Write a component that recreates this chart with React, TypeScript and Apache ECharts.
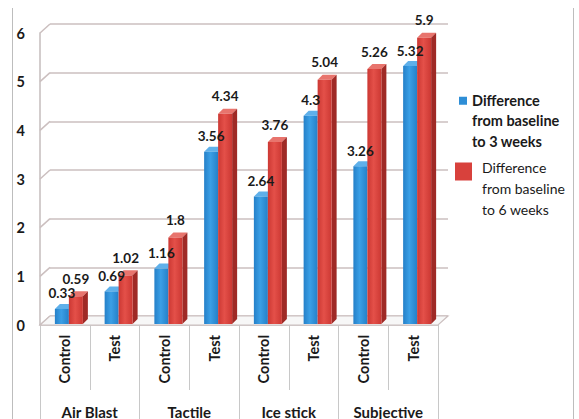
import React, { useEffect, useRef } from "react";
import * as echarts from "echarts";

const categories = ["Control", "Test", "Control", "Test", "Control", "Test", "Control", "Test"];
const groups = ["Air Blast", "Tactile", "Ice stick", "Subjective"];
const weeks3 = [0.33, 0.69, 1.16, 3.56, 2.64, 4.3, 3.26, 5.32];
const weeks6 = [0.59, 1.02, 1.8, 4.34, 3.76, 5.04, 5.26, 5.9];
const yTicks = [0, 1, 2, 3, 4, 5, 6];
const name3 = "Difference\nfrom baseline\nto 3 weeks";
const name6 = "Difference\nfrom baseline\nto 6 weeks";

const FONT = 'Lato, "Open Sans", sans-serif';
const TXT = "#1a1a1a";
const DX = 10;
const DY = 9;

function makeBar(offL: number, offR: number, c: any, showSide: boolean) {
  return (params: any, api: any) => {
    const idx = api.value(0);
    const v = api.value(1);
    const base = api.coord([idx, 0]);
    const top = api.coord([idx, v]);
    const cx = base[0];
    const x0 = cx + offL;
    const x1 = cx + offR;
    const yb = base[1] - 1;
    const yt = top[1];
    const dx = 5;
    const dy = 5;
    const children: any[] = [
      {
        type: "polygon",
        shape: { points: [[x0, yt], [x0 + dx, yt - dy], [x1 + dx, yt - dy], [x1, yt]] },
        style: { fill: c.top },
      },
      {
        type: "rect",
        shape: { x: x0, y: yt, width: x1 - x0, height: yb - yt },
        style: {
          fill: new echarts.graphic.LinearGradient(0, 0, 1, 0, [
            { offset: 0, color: c.edge },
            { offset: 0.45, color: c.mid },
            { offset: 1, color: c.edge },
          ]),
        },
      },
    ];
    if (showSide) {
      children.splice(1, 0, {
        type: "polygon",
        shape: { points: [[x1, yt], [x1 + dx, yt - dy], [x1 + dx, yb - dy], [x1, yb]] },
        style: { fill: c.side },
      });
    }
    return { type: "group", children };
  };
}

function makeLabel(offL: number, offR: number, gap: number) {
  return (params: any, api: any) => {
    const idx = api.value(0);
    const v = api.value(1);
    const base = api.coord([idx, 0]);
    const top = api.coord([idx, v]);
    const cx = base[0];
    return {
      type: "text",
      style: {
        text: String(v),
        x: cx + (offL + offR) / 2,
        y: top[1] - gap,
        align: "center",
        verticalAlign: "bottom",
        fill: TXT,
        font: `bold 13.5px ${FONT}`,
      },
    };
  };
}

export default function App() {
  const ref = useRef<HTMLDivElement>(null);
  useEffect(() => {
    const chart = echarts.init(ref.current!, null, { renderer: "svg" });
    const blue = { top: "#5fb0ea", edge: "#2580c8", mid: "#3a9fe6", side: "#1b62a0" };
    const red = { top: "#e8746d", edge: "#cc3833", mid: "#e45049", side: "#9f2a26" };
    chart.setOption({
      animation: false,
      backgroundColor: "#ffffff",
      textStyle: { fontFamily: FONT },
      graphic: [
        { type: "line", shape: { x1: 12.5, y1: 8, x2: 12.5, y2: 419 }, style: { stroke: "#bdbdbd", lineWidth: 1 } },
        { type: "line", shape: { x1: 573.5, y1: 8, x2: 573.5, y2: 419 }, style: { stroke: "#bdbdbd", lineWidth: 1 } },
      ],
      legend: [
        {
          left: 459,
          top: 90,
          padding: 0,
          orient: "vertical",
          itemWidth: 8,
          itemHeight: 60,
          selectedMode: false,
          textStyle: { fontFamily: FONT, fontWeight: "bold", fontSize: 14.5, lineHeight: 20.5, color: TXT },
          data: [
            {
              name: name3,
              icon: "path://M0,0h0.1v0.1h-0.1z M0,6h8v8h-8z M0,59.9h0.1v0.1h-0.1z",
            },
          ],
        },
        {
          left: 455,
          top: 157,
          padding: 0,
          orient: "vertical",
          itemWidth: 17,
          itemHeight: 63,
          selectedMode: false,
          textStyle: { fontFamily: FONT, fontSize: 14, lineHeight: 21, color: TXT, padding: [0, 0, 0, 5] },
          data: [
            {
              name: name6,
              icon: "path://M0,0h0.1v0.1h-0.1z M0,5.5h17v18h-17z M0,62.9h0.1v0.1h-0.1z",
            },
          ],
        },
      ],
      grid: [
        { left: 40, right: 141, top: 33, bottom: 94 },
        { left: 40 + DX, right: 141 - DX, top: 33 - DY, bottom: 94 + DY },
      ],
      xAxis: [
        {
          type: "category",
          gridIndex: 0,
          data: categories,
          position: "bottom",
          axisLine: { show: true, lineStyle: { color: "#c4bcbc", width: 1.5 } },
          axisTick: { show: true, interval: 0, length: 65, lineStyle: { color: "#c8c8c8" } },
          axisLabel: {
            interval: 0,
            rotate: 90,
            margin: 10,
            color: TXT,
            fontFamily: FONT,
            fontWeight: "bold",
            fontSize: 14.5,
          },
        },
        {
          type: "category",
          gridIndex: 0,
          data: groups,
          position: "bottom",
          axisLine: { show: false },
          axisTick: { show: true, interval: 0, length: 100, lineStyle: { color: "#c8c8c8" } },
          axisLabel: {
            interval: 0,
            margin: 79,
            color: TXT,
            fontFamily: FONT,
            fontWeight: "bold",
            fontSize: 15,
          },
        },
        {
          type: "category",
          gridIndex: 1,
          data: categories,
          show: false,
        },
      ],
      yAxis: [
        {
          type: "value",
          gridIndex: 0,
          min: 0,
          max: 6,
          interval: 1,
          axisLine: { show: true, lineStyle: { color: "#c4bcbc", width: 1.5 } },
          axisTick: { show: false },
          splitLine: { show: false },
          axisLabel: { margin: 15, color: TXT, fontFamily: FONT, fontWeight: "bold", fontSize: 14.5 },
        },
        {
          type: "value",
          gridIndex: 1,
          min: 0,
          max: 6,
          interval: 1,
          axisLine: { show: false },
          axisTick: { show: false },
          axisLabel: { show: false },
          splitLine: { show: true, lineStyle: { color: "#cbbfbf", width: 1.5 } },
        },
      ],
      series: [
        {
          type: "custom",
          name: "walls",
          xAxisIndex: 0,
          yAxisIndex: 0,
          silent: true,
          z: 1,
          data: yTicks.map((v) => [0, v]),
          encode: { x: 0, y: 1 },
          renderItem: (params: any, api: any) => {
            const v = api.value(1);
            const y = api.coord([0, v])[1];
            const cs = params.coordSys;
            const x = cs.x;
            const children: any[] = [
              {
                type: "line",
                shape: { x1: x, y1: y, x2: x + DX, y2: y - DY },
                style: { stroke: "#cbbfbf", lineWidth: 1.5 },
              },
            ];
            if (v === 0) {
              children.push({
                type: "polygon",
                shape: {
                  points: [
                    [x, y],
                    [x + cs.width, y],
                    [x + cs.width + DX, y - DY],
                    [x + DX, y - DY],
                  ],
                },
                style: { fill: "#f7f7f7", stroke: "#cbbfbf", lineWidth: 1.2 },
              });
            }
            return { type: "group", children };
          },
        },
        {
          type: "custom",
          name: name3,
          xAxisIndex: 0,
          yAxisIndex: 0,
          z: 3,
          itemStyle: { color: "#2e8ed6" },
          data: weeks3.map((v, i) => [i, v]),
          encode: { x: 0, y: 1 },
          renderItem: makeBar(-10, 4, blue, false),
        },
        {
          type: "custom",
          name: name6,
          xAxisIndex: 0,
          yAxisIndex: 0,
          z: 4,
          itemStyle: { color: "#d8413c" },
          data: weeks6.map((v, i) => [i, v]),
          encode: { x: 0, y: 1 },
          renderItem: makeBar(4, 18, red, true),
        },
        {
          type: "custom",
          name: "labels3",
          xAxisIndex: 0,
          yAxisIndex: 0,
          z: 10,
          silent: true,
          data: weeks3.map((v, i) => [i, v]),
          encode: { x: 0, y: 1 },
          renderItem: makeLabel(-10, 4, 8.5),
        },
        {
          type: "custom",
          name: "labels6",
          xAxisIndex: 0,
          yAxisIndex: 0,
          z: 10,
          silent: true,
          data: weeks6.map((v, i) => [i, v]),
          encode: { x: 0, y: 1 },
          renderItem: makeLabel(4, 18, 10.5),
        },
      ],
    });
    return () => chart.dispose();
  }, []);
  return (
    <div
      ref={ref}
      style={{ position: "absolute", left: 0, top: 0, width: 579, height: 419 }}
    />
  );
}
